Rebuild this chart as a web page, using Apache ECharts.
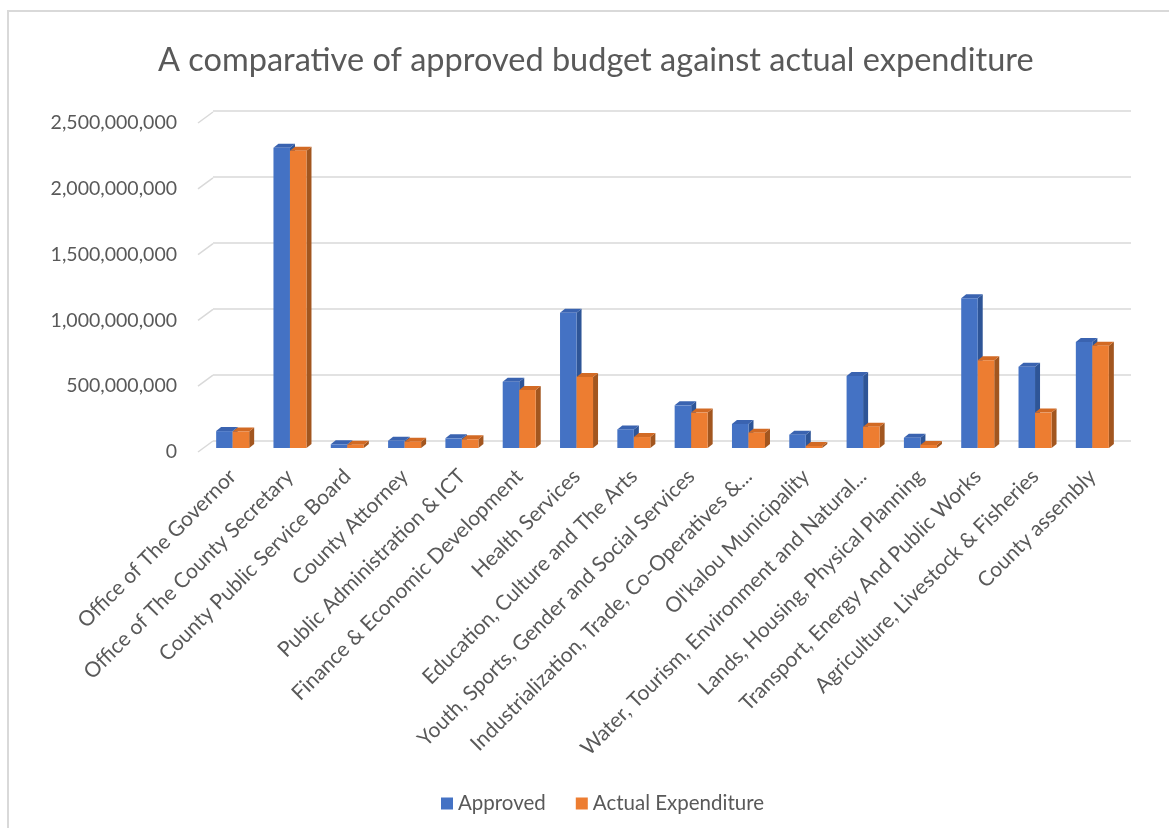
<!DOCTYPE html>
<html>
<head>
<meta charset="utf-8">
<script src="https://cdn.jsdelivr.net/npm/echarts@6/dist/echarts.min.js"></script>
<style>
html,body{margin:0;padding:0;background:#fff;}
#chart{width:1169px;height:828px;}
</style>
</head>
<body>
<div id="chart"></div>
<script>
const categories = [
  "Office of The Governor",
  "Office of The County Secretary",
  "County Public Service Board",
  "County Attorney",
  "Public Administration & ICT",
  "Finance & Economic Development",
  "Health Services",
  "Education, Culture and The Arts",
  "Youth, Sports, Gender and Social Services",
  "Industrialization, Trade, Co-Operatives &...",
  "Ol'kalou Municipality",
  "Water, Tourism, Environment and Natural...",
  "Lands, Housing, Physical Planning",
  "Transport, Energy And Public Works",
  "Agriculture, Livestock & Fisheries",
  "County assembly"
];
const approved = [128e6, 2275e6, 28e6, 55e6, 73e6, 502e6, 1025e6, 141e6, 323e6, 182e6, 101e6, 545e6, 78e6, 1134e6, 616e6, 803e6];
const actualExpenditure = [125e6, 2252e6, 25e6, 48e6, 66e6, 439e6, 538e6, 83e6, 268e6, 116e6, 15e6, 161e6, 23e6, 664e6, 268e6, 775e6];
const yTicks = [0, 500e6, 1000e6, 1500e6, 2000e6, 2500e6];

const FONT = 'Lato, "Open Sans", sans-serif';
const TXT = '#595959';

const palette = [
  {front: '#4472C4', top: '#3A63B0', side: '#2E5597'},
  {front: '#ED7D31', top: '#D26A24', side: '#A2561F'}
];

function makeRender(si) {
  return function (params, api) {
    const idx = api.value(0);
    const val = api.value(1);
    const p = api.coord([idx, val]);
    const b = api.coord([idx, 0]);
    const band = api.size([1, 0])[0];
    const w = band * 0.288;
    const dx = 5, dy = -4;
    const x0 = si === 0 ? p[0] - w : p[0];
    const x1 = x0 + w;
    const yt = p[1], yb = b[1];
    const c = palette[si];
    return {
      type: 'group',
      children: [
        {type: 'polygon', shape: {points: [[x1, yt], [x1 + dx, yt + dy], [x1 + dx, yb + dy], [x1, yb]]}, style: {fill: c.side}},
        {type: 'polygon', shape: {points: [[x0, yt], [x0 + dx, yt + dy], [x1 + dx, yt + dy], [x1, yt]]}, style: {fill: c.top}},
        {type: 'rect', shape: {x: x0, y: yt, width: w, height: yb - yt}, style: {fill: c.front}}
      ]
    };
  };
}

const chart = echarts.init(document.getElementById('chart'), null, {renderer: 'canvas'});
chart.setOption({
  backgroundColor: '#ffffff',
  animation: false,
  title: {
    text: 'A comparative of approved budget against actual expenditure',
    left: 153,
    top: 39,
    textStyle: {fontFamily: FONT, fontSize: 32.5, fontWeight: 'normal', color: TXT}
  },
  legend: {
    data: [
      {name: 'Approved', itemStyle: {color: '#4472C4'}},
      {name: 'Actual Expenditure', itemStyle: {color: '#ED7D31'}}
    ],
    left: 436,
    top: 788,
    icon: 'rect',
    itemWidth: 12,
    itemHeight: 12,
    itemGap: 30,
    textStyle: {fontFamily: FONT, fontSize: 20.5, color: TXT}
  },
  graphic: [{
    type: 'rect',
    shape: {x: 8, y: 11, width: 1300, height: 1000},
    style: {fill: 'none', stroke: '#D9D9D9', lineWidth: 2},
    silent: true
  }],
  grid: [
    {left: 204, right: 48, top: 118, bottom: 380},
    {left: 213, right: 38, top: 111, bottom: 387},
    {left: 198, right: 53, top: 123, bottom: 376}
  ],
  xAxis: [
    {
      type: 'category', gridIndex: 0, data: categories,
      axisLine: {show: false}, axisTick: {show: false},
      axisLabel: {interval: 0, rotate: 45, fontFamily: FONT, fontSize: 21, color: TXT, margin: 25}
    },
    {type: 'value', gridIndex: 1, min: 0, max: 1, show: false},
    {type: 'value', gridIndex: 2, min: 0, max: 1, show: false}
  ],
  yAxis: [
    {type: 'value', gridIndex: 0, min: 0, max: 2500e6, interval: 500e6, show: false},
    {
      type: 'value', gridIndex: 1, min: 0, max: 2500e6, interval: 500e6,
      axisLine: {show: false}, axisTick: {show: false}, axisLabel: {show: false},
      splitLine: {show: true, lineStyle: {color: '#D9D9D9', width: 1.5}}
    },
    {
      type: 'value', gridIndex: 2, min: 0, max: 2500e6, interval: 500e6,
      axisLine: {show: false}, axisTick: {show: false}, splitLine: {show: false},
      axisLabel: {
        fontFamily: FONT, fontSize: 19.5, color: TXT, margin: 21,
        formatter: v => v.toLocaleString('en-US')
      }
    }
  ],
  series: [
    {
      name: 'Approved', type: 'custom', xAxisIndex: 0, yAxisIndex: 0,
      itemStyle: {color: '#4472C4'},
      renderItem: makeRender(0),
      encode: {x: 0, y: 1},
      data: approved.map((v, i) => [i, v])
    },
    {
      name: 'Actual Expenditure', type: 'custom', xAxisIndex: 0, yAxisIndex: 0,
      itemStyle: {color: '#ED7D31'},
      renderItem: makeRender(1),
      encode: {x: 0, y: 1},
      data: actualExpenditure.map((v, i) => [i, v])
    },
    {
      name: 'wallEdge', type: 'custom', xAxisIndex: 2, yAxisIndex: 2,
      silent: true, z: 1,
      renderItem: function (params, api) {
        const p = api.coord([0, api.value(0)]);
        return {type: 'line', shape: {x1: p[0], y1: p[1], x2: p[0] + 15, y2: p[1] - 11},
          style: {stroke: '#D9D9D9', lineWidth: 1.5}};
      },
      encode: {y: 0},
      data: yTicks.map(v => [v])
    }
  ]
});
</script>
</body>
</html>
